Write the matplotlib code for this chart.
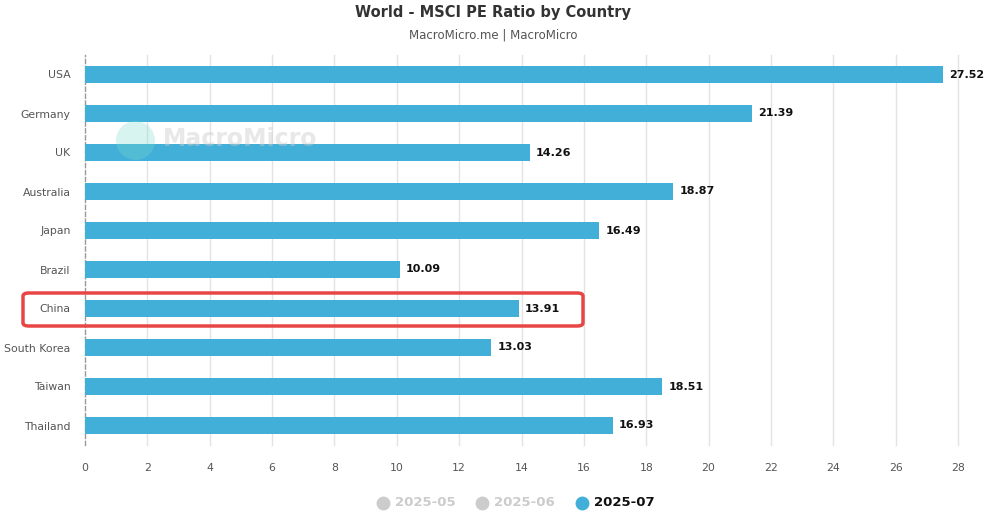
import matplotlib.pyplot as plt
from matplotlib.patches import FancyBboxPatch
from matplotlib.lines import Line2D

countries = ["USA", "Germany", "UK", "Australia", "Japan", "Brazil",
             "China", "South Korea", "Taiwan", "Thailand"]
pe_2025_07 = [27.52, 21.39, 14.26, 18.87, 16.49, 10.09, 13.91, 13.03, 18.51, 16.93]
legend_labels = ["2025-05", "2025-06", "2025-07"]
x_ticks = list(range(0, 30, 2))

bar_color = "#41afd8"
W, H = 986, 518


def fx(px):
    return px / W


def fy(py):
    return 1 - py / H


fig = plt.figure(figsize=(9.86, 5.18), dpi=100)
ax = fig.add_axes([fx(85), fy(445), (958 - 85) / W, (445 - 55) / H])

ypos = list(range(len(countries)))
ax.barh(ypos, pe_2025_07, height=0.45, color=bar_color, zorder=3)
for y, v in zip(ypos, pe_2025_07):
    ax.text(v + 0.2, y, f"{v:.2f}", va="center", ha="left", fontsize=8,
            fontweight="bold", color="#111111", zorder=4)

ax.set_ylim(len(countries) - 0.5, -0.5)
ax.set_xlim(0, 28)
ax.set_xticks(x_ticks)
ax.set_yticks(ypos)
ax.set_yticklabels(countries)
ax.tick_params(axis="both", length=0, labelsize=7.8, colors="#555555")
ax.tick_params(axis="x", pad=13)
ax.tick_params(axis="y", pad=10.5)
for gx in x_ticks[1:]:
    ax.axvline(gx, color="#e3e3e3", linewidth=1, zorder=0, clip_on=False)
for s in ["top", "right", "bottom"]:
    ax.spines[s].set_visible(False)
ax.spines["left"].set_linestyle((0, (3, 2)))
ax.spines["left"].set_color("#999999")
ax.spines["left"].set_linewidth(1)

fig.text(0.5, fy(12), "World - MSCI PE Ratio by Country", ha="center", va="center",
         fontsize=10.5, fontweight="bold", color="#333333")
fig.text(0.5, fy(35), "MacroMicro.me | MacroMicro", ha="center", va="center",
         fontsize=8.5, color="#555555")

# watermark
fig.add_artist(Line2D([fx(135)], [fy(140)], marker="o", markersize=28, linestyle="none",
                      markerfacecolor="#7fdcd0", markeredgecolor="none", alpha=0.3,
                      transform=fig.transFigure, zorder=5))
fig.text(fx(163), fy(139), "MacroMicro", ha="left", va="center", fontsize=17,
         fontweight="bold", color="#cccccc", alpha=0.45, zorder=5)

# highlight box around China
fig.patches.append(FancyBboxPatch((fx(23), fy(326)), (583 - 23) / W, (326 - 293) / H,
                                  boxstyle="round,pad=0,rounding_size=0.006",
                                  transform=fig.transFigure, facecolor="none",
                                  edgecolor="#e84545", linewidth=2.5, zorder=6))

# legend
legend_x = [383, 482, 582]
legend_colors = ["#cccccc", "#cccccc", bar_color]
text_colors = ["#cccccc", "#cccccc", "#111111"]
for lx, lab, c, tc in zip(legend_x, legend_labels, legend_colors, text_colors):
    fig.add_artist(Line2D([fx(lx)], [fy(503)], marker="o", markersize=10, linestyle="none",
                          markerfacecolor=c, markeredgecolor="none",
                          transform=fig.transFigure))
    fig.text(fx(lx + 12), fy(503), lab, ha="left", va="center", fontsize=9.5,
             fontweight="bold", color=tc)

fig.savefig("out.png", dpi=100)
